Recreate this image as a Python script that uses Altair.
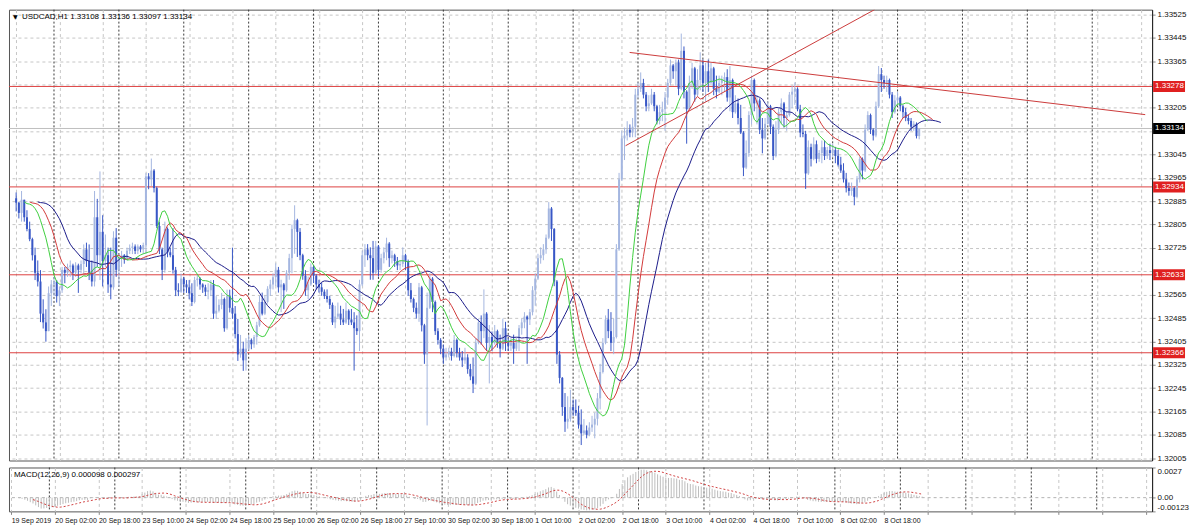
import json
import altair as alt
import numpy as np
import pandas as pd

# ---------------- text ----------------
TITLE_MAIN = "USDCAD,H1  1.33108 1.33136 1.33097 1.33134"
TITLE_MACD = "MACD(12,26,9) 0.000098 0.000297"
TRIANGLE = "\u25BC"

# ---------------- candles (points above 1.30000, H1 bars) ----------------
FIRST_OPEN = 2895
HIGH = [
    2915, 2882, 2920, 2865, 2854, 2815, 2760, 2726, 2682, 2649,
    2549, 2515, 2593, 2615, 2626, 2615, 2593, 2660, 2660, 2671,
    2682, 2671, 2676, 2671, 2682, 2737, 2743, 2737, 2682, 2920,
    2893, 2987, 2837, 2771, 2726, 2726, 2782, 2793, 2704, 2715,
    2704, 2726, 2737, 2743, 2737, 2737, 2735, 2743, 2981, 2981,
    3031, 2995, 2935, 2815, 2726, 2815, 2795, 2726, 2793, 2660,
    2604, 2637, 2626, 2615, 2615, 2604, 2626, 2632, 2625, 2604,
    2599, 2604, 2615, 2615, 2560, 2549, 2571, 2555, 2582, 2582,
    2726, 2526, 2482, 2427, 2404, 2416, 2427, 2415, 2427, 2472,
    2561, 2572, 2561, 2594, 2616, 2638, 2672, 2660, 2616, 2605,
    2649, 2705, 2805, 2871, 2825, 2793, 2705, 2649, 2627, 2672,
    2665, 2635, 2616, 2605, 2583, 2583, 2561, 2538, 2527, 2538,
    2527, 2516, 2538, 2515, 2516, 2505, 2494, 2616, 2716, 2738,
    2738, 2727, 2749, 2749, 2735, 2705, 2727, 2760, 2745, 2716,
    2705, 2694, 2683, 2727, 2705, 2685, 2605, 2555, 2538, 2605,
    2595, 2465, 2572, 2638, 2625, 2545, 2450, 2416, 2394, 2383,
    2383, 2383, 2427, 2415, 2383, 2372, 2383, 2361, 2328, 2350,
    2416, 2483, 2494, 2583, 2505, 2461, 2439, 2461, 2445, 2428,
    2483, 2472, 2416, 2416, 2428, 2416, 2461, 2483, 2505, 2494,
    2516, 2594, 2638, 2705, 2727, 2738, 2771, 2882, 2865, 2793,
    2615, 2372, 2283, 2228, 2217, 2239, 2206, 2206, 2184, 2172,
    2139, 2117, 2128, 2150, 2161, 2228, 2328, 2416, 2494, 2516,
    2505, 2483, 2738, 2982, 3126, 3137, 3159, 3148, 3170, 3270,
    3292, 3326, 3304, 3259, 3248, 3270, 3259, 3215, 3215, 3226,
    3259, 3304, 3370, 3355, 3370, 3370, 3459, 3415, 3265, 3315,
    3359, 3345, 3337, 3395, 3370, 3359, 3370, 3359, 3345, 3315,
    3315, 3315, 3326, 3337, 3348, 3305, 3248, 3237, 3215, 3125,
    3093, 3193, 3315, 3305, 3248, 3237, 3170, 3170, 3226, 3215,
    3148, 3159, 3204, 3237, 3225, 3193, 3259, 3281, 3292, 3275,
    3215, 3148, 3126, 3093, 3082, 3104, 3093, 3060, 3093, 3093,
    3071, 3082, 3082, 3071, 3060, 3037, 3015, 2982, 2949, 2949,
    2935, 2971, 3037, 3035, 3148, 3193, 3185, 3135, 3226, 3348,
    3341, 3315, 3315, 3305, 3259, 3248, 3259, 3245, 3215, 3204,
    3182, 3170, 3159, 3155, 3136,
]
LOW = [
    2850, 2826, 2815, 2815, 2782, 2748, 2682, 2615, 2593, 2471,
    2449, 2404, 2440, 2526, 2560, 2538, 2526, 2571, 2604, 2626,
    2626, 2615, 2626, 2571, 2637, 2637, 2660, 2615, 2593, 2593,
    2660, 2615, 2593, 2660, 2571, 2549, 2582, 2626, 2593, 2660,
    2671, 2682, 2704, 2704, 2704, 2704, 2710, 2704, 2704, 2926,
    2937, 2915, 2793, 2704, 2615, 2640, 2693, 2693, 2637, 2560,
    2560, 2571, 2571, 2571, 2549, 2526, 2535, 2593, 2582, 2571,
    2560, 2549, 2560, 2482, 2482, 2504, 2515, 2438, 2445, 2504,
    2482, 2415, 2338, 2349, 2304, 2305, 2375, 2378, 2383, 2394,
    2455, 2494, 2495, 2535, 2561, 2583, 2594, 2572, 2505, 2516,
    2575, 2616, 2638, 2705, 2694, 2683, 2616, 2561, 2550, 2595,
    2605, 2583, 2572, 2561, 2550, 2538, 2516, 2461, 2450, 2483,
    2461, 2461, 2465, 2461, 2461, 2305, 2427, 2372, 2594, 2660,
    2683, 2616, 2616, 2635, 2627, 2640, 2672, 2683, 2660, 2672,
    2660, 2649, 2649, 2660, 2649, 2561, 2538, 2505, 2483, 2472,
    2439, 2328, 2117, 2516, 2505, 2427, 2394, 2361, 2328, 2339,
    2350, 2339, 2350, 2350, 2339, 2317, 2328, 2294, 2272, 2228,
    2255, 2395, 2394, 2416, 2372, 2261, 2372, 2394, 2383, 2350,
    2375, 2372, 2372, 2372, 2328, 2372, 2372, 2428, 2450, 2328,
    2461, 2494, 2527, 2615, 2671, 2683, 2705, 2755, 2749, 2594,
    2328, 2261, 2150, 2095, 2106, 2130, 2150, 2150, 2106, 2050,
    2084, 2073, 2080, 2095, 2073, 2117, 2172, 2295, 2395, 2416,
    2372, 2361, 2415, 2715, 2955, 3026, 3093, 3104, 3104, 3104,
    3237, 3259, 3237, 3193, 3193, 3215, 3193, 3148, 3148, 3159,
    3126, 3215, 3281, 3304, 3281, 3248, 3265, 3237, 3082, 3195,
    3270, 3226, 3245, 3265, 3259, 3226, 3259, 3281, 3248, 3237,
    3255, 3248, 3259, 3226, 3193, 3170, 3185, 3148, 3115, 2971,
    2995, 3037, 3148, 3193, 3148, 3115, 3049, 3095, 3148, 3115,
    3026, 3035, 3115, 3148, 3137, 3126, 3175, 3204, 3215, 3193,
    3104, 3104, 2927, 2975, 3004, 3025, 3015, 3020, 3015, 3026,
    3030, 3026, 3037, 3015, 3004, 2982, 2949, 2915, 2904, 2904,
    2871, 2895, 2949, 2960, 2985, 3125, 3115, 3093, 3104, 3204,
    3259, 3270, 3259, 3237, 3170, 3185, 3215, 3193, 3170, 3159,
    3148, 3126, 3126, 3100, 3097,
]
CLOSE = [
    2880, 2845, 2890, 2830, 2790, 2755, 2700, 2640, 2610, 2500,
    2470, 2440, 2570, 2600, 2610, 2560, 2580, 2650, 2640, 2660,
    2665, 2640, 2665, 2650, 2670, 2720, 2680, 2640, 2610, 2830,
    2700, 2780, 2680, 2700, 2600, 2590, 2760, 2650, 2690, 2700,
    2685, 2715, 2725, 2730, 2715, 2730, 2720, 2735, 2970, 2960,
    2990, 2930, 2800, 2720, 2650, 2790, 2710, 2700, 2650, 2580,
    2575, 2620, 2600, 2590, 2570, 2540, 2615, 2620, 2600, 2590,
    2575, 2580, 2600, 2500, 2510, 2530, 2550, 2450, 2560, 2520,
    2500, 2430, 2360, 2380, 2340, 2380, 2410, 2395, 2420, 2460,
    2540, 2500, 2540, 2585, 2600, 2625, 2650, 2590, 2600, 2580,
    2640, 2690, 2790, 2820, 2780, 2700, 2630, 2580, 2600, 2660,
    2630, 2600, 2590, 2575, 2560, 2550, 2530, 2470, 2490, 2500,
    2480, 2470, 2510, 2480, 2470, 2450, 2440, 2600, 2700, 2720,
    2700, 2690, 2640, 2730, 2650, 2690, 2710, 2740, 2690, 2700,
    2680, 2665, 2670, 2700, 2680, 2580, 2550, 2520, 2500, 2590,
    2460, 2360, 2520, 2620, 2540, 2440, 2410, 2380, 2350, 2360,
    2370, 2355, 2410, 2365, 2350, 2340, 2350, 2310, 2285, 2260,
    2400, 2470, 2440, 2500, 2400, 2420, 2400, 2440, 2400, 2380,
    2450, 2400, 2390, 2400, 2380, 2400, 2450, 2470, 2490, 2480,
    2505, 2580, 2620, 2690, 2700, 2720, 2760, 2860, 2790, 2610,
    2360, 2280, 2180, 2130, 2140, 2180, 2170, 2160, 2120, 2090,
    2100, 2085, 2110, 2120, 2140, 2210, 2300, 2400, 2480, 2440,
    2400, 2420, 2720, 2960, 3100, 3110, 3130, 3120, 3140, 3250,
    3270, 3290, 3250, 3210, 3220, 3250, 3210, 3160, 3190, 3200,
    3240, 3290, 3350, 3330, 3360, 3270, 3400, 3260, 3200, 3290,
    3340, 3250, 3300, 3350, 3290, 3330, 3290, 3340, 3270, 3260,
    3290, 3300, 3310, 3240, 3300, 3190, 3220, 3170, 3120, 3000,
    3050, 3180, 3300, 3220, 3230, 3130, 3100, 3150, 3210, 3140,
    3040, 3130, 3190, 3220, 3170, 3180, 3250, 3260, 3270, 3200,
    3120, 3115, 2980, 3070, 3030, 3080, 3030, 3050, 3070, 3040,
    3060, 3050, 3060, 3040, 3010, 2990, 2960, 2930, 2920, 2930,
    2900, 2960, 3030, 2990, 3130, 3180, 3130, 3110, 3210, 3320,
    3300, 3290, 3300, 3250, 3190, 3230, 3240, 3210, 3190, 3170,
    3160, 3140, 3150, 3108, 3134,
]

# ---------------- axes / annotations ----------------
X_LABELS = ["19 Sep 2019", "20 Sep 02:00", "20 Sep 18:00", "23 Sep 10:00",
            "24 Sep 02:00", "24 Sep 18:00", "25 Sep 10:00", "26 Sep 02:00",
            "26 Sep 18:00", "27 Sep 10:00", "30 Sep 02:00", "30 Sep 18:00",
            "1 Oct 10:00", "2 Oct 02:00", "2 Oct 18:00", "3 Oct 10:00",
            "4 Oct 02:00", "4 Oct 18:00", "7 Oct 10:00", "8 Oct 02:00",
            "8 Oct 18:00"]
X_GRID = list(range(0, 417, 16))
PRICE_TICKS = [1.32005, 1.32085, 1.32165, 1.32245, 1.32325, 1.32405, 1.32485,
               1.32565, 1.32645, 1.32725, 1.32805, 1.32885, 1.32965, 1.33045,
               1.33125, 1.33205, 1.33285, 1.33365, 1.33445, 1.33525]
HIDDEN_TICKS = [1.32645, 1.33125, 1.33285]   # covered by the level boxes
LEVELS = [1.33278, 1.32934, 1.32633, 1.32366]
BID = 1.33134
DAY_STARTS = [14, 38, 62, 86, 110, 134, 158, 182, 206, 230, 254, 278, 302,
              326, 350, 374, 398]
TREND_DOWN_X = [226.9, 417.6]
TREND_DOWN_P = [1.333945, 1.331815]
TREND_UP_X = [225.4, 317.5]
TREND_UP_P = [1.33075, 1.33541]
MACD_TICKS = [0.0027, 0.0, -0.00123]
MACD_TICK_LABELS = ["0.0027", "0.00", "-0.00123"]

# ---------------- build tables ----------------
n = len(CLOSE)
close = 1.3 + np.array(CLOSE) / 1e5
opn = 1.3 + np.array([FIRST_OPEN] + CLOSE[:-1]) / 1e5
high = np.maximum(1.3 + np.array(HIGH) / 1e5, np.maximum(opn, close))
low = np.minimum(1.3 + np.array(LOW) / 1e5, np.minimum(opn, close))
candles = pd.DataFrame({"i": np.arange(n), "open": opn, "high": high,
                        "low": low, "close": close})
candles["dir"] = np.where(candles["close"] >= candles["open"], "up", "down")

# Alligator (SMMA of median price, shifted forward)
med = pd.Series((high + low) / 2)
allig = []
for name, period, shift in [("jaw", 13, 8), ("teeth", 8, 5), ("lips", 5, 3)]:
    s = med.ewm(alpha=1.0 / period, adjust=False).mean()
    allig.append(pd.DataFrame({"x": np.arange(n) + shift, "v": s.values, "line": name}))
allig = pd.concat(allig, ignore_index=True)

# MACD(12,26,9)
cs = pd.Series(close)
macd = cs.ewm(span=12, adjust=False).mean() - cs.ewm(span=26, adjust=False).mean()
signal = macd.rolling(9).mean()
macd_df = pd.DataFrame({"i": np.arange(n), "macd": macd.values, "signal": signal.values, "zero": 0.0})

levels_df = pd.DataFrame({"price": LEVELS, "label": [f"{v:.5f}" for v in LEVELS]})
bid_df = pd.DataFrame({"price": [BID], "label": [f"{BID:.5f}"]})
days_df = pd.DataFrame({"d": DAY_STARTS})
trend_df = pd.DataFrame({"x": TREND_DOWN_X + TREND_UP_X, "p": TREND_DOWN_P + TREND_UP_P,
                         "line": ["down", "down", "up", "up"]})

# ---------------- scales / axes ----------------
W, H1, H2 = 1146, 452, 44
FONT = "Liberation Sans"
XS = alt.Scale(domain=[-0.8, 418.3], nice=False, zero=False)
YS = alt.Scale(domain=[1.31997, 1.33541], nice=False, zero=False)
MS = alt.Scale(domain=[-0.00123, 0.0027], nice=False, zero=False)

GRID = dict(grid=True, gridColor="#c6c6c6", gridDash=[3, 3], gridWidth=1)
AX_MAIN = alt.Axis(values=X_GRID, labels=False, ticks=False, domain=False, title=None, **GRID)
label_expr = ("datum.value <= %d ? %s[floor(datum.value / 16)] : ''"
              % ((len(X_LABELS) - 1) * 16, json.dumps(X_LABELS).replace('"', "'")))
AX_MACD = alt.Axis(values=X_GRID, labelExpr=label_expr, labelAlign="left", labelPadding=2,
                   tickSize=3, domain=False, title=None, labelOverlap=False,
                   labelFont=FONT, labelFontSize=7, labelColor="#111", **GRID)
hidden_cond = " || ".join("abs(datum.value - %s) < 0.00001" % v for v in HIDDEN_TICKS)
price_label_expr = "(%s) ? '' : format(datum.value, '.5f')" % hidden_cond
AY_MAIN = alt.Axis(orient="right", values=PRICE_TICKS, labelExpr=price_label_expr, tickSize=3,
                   labelPadding=2, title=None, labelFont=FONT, labelFontSize=8,
                   labelColor="#111", domainColor="#222", labelOverlap=False, **GRID)
macd_label_expr = ("datum.value > 0.001 ? '%s' : (datum.value < -0.001 ? '%s' : '%s')"
                   % (MACD_TICK_LABELS[0], MACD_TICK_LABELS[2], MACD_TICK_LABELS[1]))
AY_MACD = alt.Axis(orient="right", values=MACD_TICKS, labelExpr=macd_label_expr, grid=False,
                   tickSize=3, labelPadding=2, title=None, labelFlush=True, labelOverlap=False,
                   labelFont=FONT, labelFontSize=8, labelColor="#111", domainColor="#222")


def X(f):
    return alt.X(f"{f}:Q", scale=XS, axis=AX_MAIN)


def Y(f):
    return alt.Y(f"{f}:Q", scale=YS, axis=AY_MAIN)


def XM(f):
    return alt.X(f"{f}:Q", scale=XS, axis=AX_MACD)


def YM(f):
    return alt.Y(f"{f}:Q", scale=MS, axis=AY_MACD)


UP_COL, DOWN_COL = "#a4b6e0", "#3857c6"
LINE_COLS = {"jaw": "#1c1c8a", "teeth": "#d23a3a", "lips": "#3fcf3f"}

days = alt.Chart(days_df).mark_rule(color="#3a3a3a", strokeDash=[2, 2], strokeWidth=1).encode(x=X("d"))
lvl = alt.Chart(levels_df).mark_rule(color="#dd4040", strokeWidth=1).encode(y=Y("price"))
bidl = alt.Chart(bid_df).mark_rule(color="#c0c0c0", strokeWidth=1).encode(y=Y("price"))

layers = [days, bidl, lvl]
for d, col in [("up", UP_COL), ("down", DOWN_COL)]:
    base = alt.Chart(candles).transform_filter(alt.datum.dir == d)
    layers.append(base.mark_rule(color=col, strokeWidth=1).encode(
        x=X("i"), y=Y("low"), y2=alt.Y2("high")))
    layers.append(base.mark_bar(color=col, size=2).encode(
        x=X("i"), y=Y("open"), y2=alt.Y2("close")))
for name, col in LINE_COLS.items():
    layers.append(alt.Chart(allig).transform_filter(alt.datum.line == name)
                  .mark_line(color=col, strokeWidth=1, clip=True)
                  .encode(x=X("x"), y=Y("v")))
layers.append(alt.Chart(trend_df).mark_line(color="#cc3b3b", strokeWidth=1, clip=True)
              .encode(x=X("x"), y=Y("p"), detail="line:N"))
# axis price boxes
layers.append(alt.Chart(levels_df).mark_tick(orient="horizontal", size=32, thickness=11,
                                              color="#e02020", opacity=1)
              .encode(x=alt.value(W + 17), y=Y("price")))
layers.append(alt.Chart(bid_df).mark_tick(orient="horizontal", size=32, thickness=11,
                                           color="#000000", opacity=1)
              .encode(x=alt.value(W + 17), y=Y("price")))
layers.append(alt.Chart(pd.concat([levels_df, bid_df])).mark_text(
    align="left", baseline="middle", font=FONT, fontSize=8, color="white")
    .encode(x=alt.value(W + 3), y=Y("price"), text="label:N"))
# title
layers.append(alt.Chart(pd.DataFrame({"t": [TRIANGLE]})).mark_text(
    align="left", baseline="middle", font="DejaVu Sans", fontSize=6, color="#000")
    .encode(x=alt.value(4), y=alt.value(7), text="t:N"))
layers.append(alt.Chart(pd.DataFrame({"t": [TITLE_MAIN]})).mark_text(
    align="left", baseline="middle", font=FONT, fontSize=8, color="#000")
    .encode(x=alt.value(13), y=alt.value(7), text="t:N"))

main = alt.layer(*layers).properties(width=W, height=H1)

mlayers = [
    alt.Chart(days_df).mark_rule(color="#3a3a3a", strokeDash=[2, 2], strokeWidth=1).encode(x=XM("d")),
    alt.Chart(pd.DataFrame({"z": [MACD_TICKS[1]]})).mark_rule(color="#b4b4b4", strokeDash=[3, 3])
    .encode(y=YM("z")),
    alt.Chart(macd_df).mark_rule(color="#bdbdbd", strokeWidth=1, clip=True)
    .encode(x=XM("i"), y=YM("zero"), y2=alt.Y2("macd")),
    alt.Chart(macd_df.dropna()).mark_line(color="#d04040", strokeWidth=1, strokeDash=[2, 2], clip=True)
    .encode(x=XM("i"), y=YM("signal")),
    alt.Chart(pd.DataFrame({"t": [TITLE_MACD]})).mark_text(
        align="left", baseline="middle", font=FONT, fontSize=8, color="#000")
    .encode(x=alt.value(5), y=alt.value(8), text="t:N"),
]
macd_panel = alt.layer(*mlayers).properties(width=W, height=H2)

chart = (alt.vconcat(main, macd_panel, spacing=3)
         .resolve_scale(x="independent", y="independent")
         .resolve_axis(x="independent", y="independent")
         .properties(padding={"left": 0, "top": 0, "right": 2, "bottom": 0})
         .configure(background="white", font=FONT)
         .configure_view(stroke="#555", strokeWidth=1))

chart.save("out.html", embed_options={"renderer": "svg", "actions": False})
